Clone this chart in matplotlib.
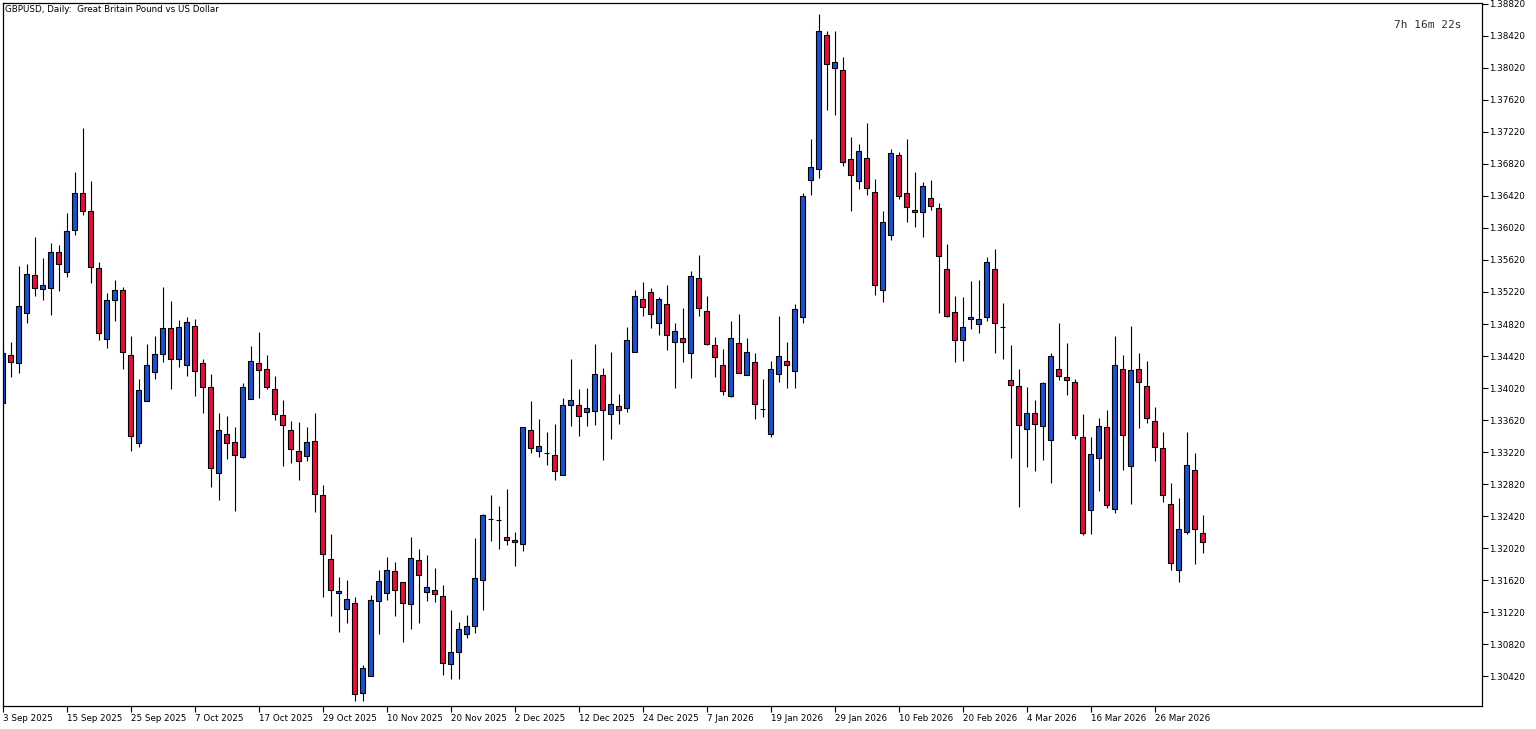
import matplotlib
matplotlib.use("Agg")
import matplotlib.pyplot as plt
import numpy as np

# ---- data (GBPUSD daily) ----
opens = [1.33833,1.34433,1.34333,1.34958,1.35433,1.35258,1.35270,1.35720,1.35470,1.35995,
         1.36458,1.36233,1.35520,1.34633,1.35120,1.35245,1.34433,1.33333,1.33858,1.34220,
         1.34445,1.34770,1.34383,1.34308,1.34795,1.34333,1.34033,1.32958,1.33445,1.33345,
         1.33158,1.33883,1.34333,1.34258,1.34008,1.33683,1.33495,1.33233,1.33170,1.33358,
         1.32683,1.31883,1.31458,1.31258,1.31333,1.30208,1.30420,1.31358,1.31458,1.31733,
         1.31595,1.31320,1.31870,1.31470,1.31495,1.31420,1.30570,1.30720,1.30945,1.31045,
         1.31620,1.32383,1.32370,1.32158,1.32095,1.32070,1.33495,1.33233,1.33208,1.33183,
         1.32933,1.33808,1.33808,1.33720,1.33733,1.34183,1.33695,1.33795,1.33770,1.34470,
         1.35133,1.35220,1.34833,1.35070,1.34595,1.34645,1.34458,1.35395,1.34983,1.34558,
         1.34308,1.33920,1.34583,1.34183,1.34345,1.33758,1.33445,1.34195,1.34358,1.34233,
         1.34908,1.36620,1.36758,1.38433,1.38020,1.37995,1.36883,1.36608,1.36895,1.36470,
         1.35245,1.35933,1.36933,1.36458,1.36245,1.36220,1.36395,1.36270,1.35508,1.34970,
         1.34620,1.34883,1.34820,1.34908,1.35508,1.34783,1.34120,1.34045,1.33508,1.33708,
         1.33545,1.33370,1.34258,1.34158,1.34095,1.33408,1.32495,1.33145,1.33533,1.32508,
         1.34258,1.33045,1.34258,1.34045,1.33608,1.33270,1.32570,1.31745,1.32220,1.32995,
         1.32208]
highs = [1.34483,1.34595,1.35545,1.35570,1.35908,1.35645,1.35833,1.35808,1.36208,1.36720,
         1.37270,1.36608,1.35595,1.35208,1.35370,1.35283,1.34670,1.34133,1.34570,1.34670,
         1.35283,1.35108,1.34870,1.34908,1.34883,1.34383,1.34195,1.33708,1.33670,1.33533,
         1.34083,1.34545,1.34720,1.34433,1.34170,1.33870,1.33608,1.33595,1.33533,1.33708,
         1.32808,1.32195,1.31658,1.31620,1.31408,1.30558,1.31433,1.31745,1.31908,1.31845,
         1.31595,1.32158,1.32008,1.31933,1.31770,1.31558,1.31245,1.31095,1.31183,1.32145,
         1.32445,1.32683,1.32545,1.32758,1.32220,1.33533,1.33858,1.33633,1.33470,1.33570,
         1.33895,1.34383,1.34008,1.34020,1.34570,1.34270,1.34470,1.33945,1.34783,1.35245,
         1.35345,1.35270,1.35158,1.35308,1.34833,1.35020,1.35483,1.35683,1.35170,1.34658,
         1.34508,1.34858,1.34945,1.34645,1.34458,1.34133,1.34358,1.34920,1.34595,1.35070,
         1.36458,1.37133,1.38695,1.38483,1.38483,1.38158,1.37158,1.37070,1.37333,1.36633,
         1.36233,1.37008,1.36970,1.37133,1.36720,1.36595,1.36620,1.36333,1.35820,1.35170,
         1.35158,1.35358,1.35370,1.35658,1.35758,1.35083,1.34558,1.34258,1.34033,1.33870,
         1.34095,1.34458,1.34833,1.34583,1.34133,1.33695,1.33408,1.33645,1.33745,1.34670,
         1.34433,1.34795,1.34458,1.34358,1.33783,1.33470,1.32833,1.32645,1.33470,1.33208,
         1.32433]
lows = [1.33808,1.34158,1.34208,1.34833,1.35170,1.35120,1.34933,1.35233,1.35408,1.35933,
        1.36183,1.35333,1.34620,1.34520,1.34858,1.34258,1.33233,1.33283,1.33858,1.34133,
        1.34345,1.34008,1.34283,1.34170,1.33920,1.33708,1.32783,1.32620,1.33133,1.32483,
        1.33145,1.33883,1.33895,1.34008,1.33620,1.33045,1.33083,1.32870,1.33108,1.32470,
        1.31408,1.31170,1.30970,1.31083,1.30108,1.30108,1.30420,1.30945,1.31370,1.31170,
        1.30845,1.31008,1.31083,1.31358,1.31345,1.30433,1.30383,1.30383,1.30895,1.30958,
        1.31245,1.32108,1.32008,1.32058,1.31795,1.31983,1.33208,1.33158,1.33058,1.32870,
        1.32933,1.33545,1.33420,1.33545,1.33558,1.33120,1.33383,1.33570,1.33720,1.34470,
        1.34920,1.34770,1.34683,1.34495,1.34020,1.34345,1.34145,1.34920,1.34558,1.34158,
        1.33933,1.33908,1.34208,1.34183,1.33633,1.33658,1.33408,1.34095,1.34020,1.34020,
        1.34833,1.36433,1.36645,1.37495,1.37433,1.36795,1.36233,1.36508,1.36433,1.35183,
        1.35095,1.35870,1.36383,1.36095,1.36033,1.35908,1.36245,1.34958,1.34908,1.34345,
        1.34358,1.34758,1.34708,1.34858,1.34458,1.34383,1.33145,1.32533,1.33033,1.32983,
        1.33120,1.32833,1.34120,1.33933,1.33383,1.32183,1.32195,1.32733,1.32520,1.32458,
        1.32995,1.32570,1.33520,1.33583,1.33108,1.32595,1.31745,1.31595,1.32195,1.31820,
        1.31958]
closes = [1.34458,1.34345,1.35045,1.35445,1.35270,1.35308,1.35720,1.35570,1.35983,1.36458,
          1.36233,1.35533,1.34708,1.35120,1.35245,1.34470,1.33420,1.33995,1.34308,1.34445,
          1.34770,1.34383,1.34783,1.34845,1.34233,1.34033,1.33020,1.33495,1.33333,1.33183,
          1.34033,1.34358,1.34245,1.34033,1.33695,1.33558,1.33258,1.33108,1.33345,1.32695,
          1.31945,1.31495,1.31483,1.31383,1.30195,1.30520,1.31370,1.31608,1.31745,1.31495,
          1.31333,1.31895,1.31683,1.31533,1.31445,1.30583,1.30720,1.31008,1.31045,1.31645,
          1.32433,1.32383,1.32370,1.32120,1.32120,1.33533,1.33270,1.33295,1.33208,1.32983,
          1.33808,1.33870,1.33670,1.33770,1.34195,1.33745,1.33820,1.33745,1.34620,1.35170,
          1.35033,1.34945,1.35133,1.34683,1.34733,1.34595,1.35420,1.35020,1.34570,1.34408,
          1.33983,1.34645,1.34208,1.34470,1.33820,1.33758,1.34258,1.34420,1.34308,1.35008,
          1.36420,1.36783,1.38483,1.38070,1.38095,1.36845,1.36683,1.36983,1.36520,1.35308,
          1.36095,1.36958,1.36420,1.36283,1.36220,1.36545,1.36295,1.35670,1.34920,1.34620,
          1.34783,1.34908,1.34883,1.35595,1.34833,1.34783,1.34058,1.33558,1.33708,1.33570,
          1.34083,1.34420,1.34170,1.34120,1.33433,1.32208,1.33195,1.33545,1.32558,1.34308,
          1.33433,1.34245,1.34095,1.33645,1.33283,1.32683,1.31833,1.32258,1.33058,1.32258,
          1.32095]

date_labels = ["3 Sep 2025", "15 Sep 2025", "25 Sep 2025", "7 Oct 2025", "17 Oct 2025",
               "29 Oct 2025", "10 Nov 2025", "20 Nov 2025", "2 Dec 2025", "12 Dec 2025",
               "24 Dec 2025", "7 Jan 2026", "19 Jan 2026", "29 Jan 2026", "10 Feb 2026",
               "20 Feb 2026", "4 Mar 2026", "16 Mar 2026", "26 Mar 2026"]
label_every = 8
price_ticks = [1.38820, 1.38420, 1.38020, 1.37620, 1.37220, 1.36820, 1.36420, 1.36020,
               1.35620, 1.35220, 1.34820, 1.34420, 1.34020, 1.33620, 1.33220, 1.32820,
               1.32420, 1.32020, 1.31620, 1.31220, 1.30820, 1.30420]

title_text = "GBPUSD, Daily:  Great Britain Pound vs US Dollar"
timer_text = "7h 16m 22s"

# ---- styling ----
BULL = "#2050C8"
BEAR = "#DC143C"
W, H = 1536, 729
DPI = 100

fig = plt.figure(figsize=(W / DPI, H / DPI), dpi=DPI, facecolor="white")
ax_l, ax_r, ax_t, ax_b = 2.7, 1482.0, 3.0, 706.0
ax = fig.add_axes([ax_l / W, 1 - ax_b / H, (ax_r - ax_l) / W, (ax_b - ax_t) / H])
ax.set_facecolor("white")

o = np.array(opens); h = np.array(highs); l = np.array(lows); c = np.array(closes)
idx = np.arange(len(o))
up = c >= o
colors = np.where(up, BULL, BEAR)

lw = 0.72 * 1.1
ax.vlines(idx, l, h, color="black", linewidth=lw, zorder=1)
bottoms = np.minimum(o, c)
heights = np.abs(c - o)
ax.bar(idx, heights, width=0.58, bottom=bottoms, color=colors,
       edgecolor="black", linewidth=lw, zorder=2)

# axis limits: bar i centred at px 2.5 + 8 i ; 1 px = 0.000125 price
ax.set_xlim((ax_l - 2.5) / 8, (ax_r - 2.5) / 8)
ax.set_ylim(1.3887 - ax_b / 8000, 1.3887 - ax_t / 8000)

for s in ax.spines.values():
    s.set_color("black")
    s.set_linewidth(0.9)

FONT = "DejaVu Sans"
FS = 6.3
ax.yaxis.tick_right()
ax.set_yticks(price_ticks)
ax.set_yticklabels([f"{p:.5f}" for p in price_ticks], fontsize=FS, family=FONT)
ax.tick_params(axis="y", length=4, width=0.8, pad=1, colors="black")

ax.set_xticks(idx[::label_every][:len(date_labels)])
ax.set_xticklabels(date_labels, fontsize=FS, family=FONT, ha="left")
ax.tick_params(axis="x", length=4, width=0.8, pad=2, colors="black")
for t in ax.get_xticklabels():
    t.set_horizontalalignment("left")

fig.text(5 / W, 1 - 9 / H, title_text, fontsize=FS, family=FONT,
         ha="left", va="center", color="black")
fig.text(1462 / W, 1 - 25 / H, timer_text, fontsize=8, family="DejaVu Sans Mono",
         ha="right", va="center", color="#303030")

fig.savefig("out.png", dpi=DPI, facecolor="white")
